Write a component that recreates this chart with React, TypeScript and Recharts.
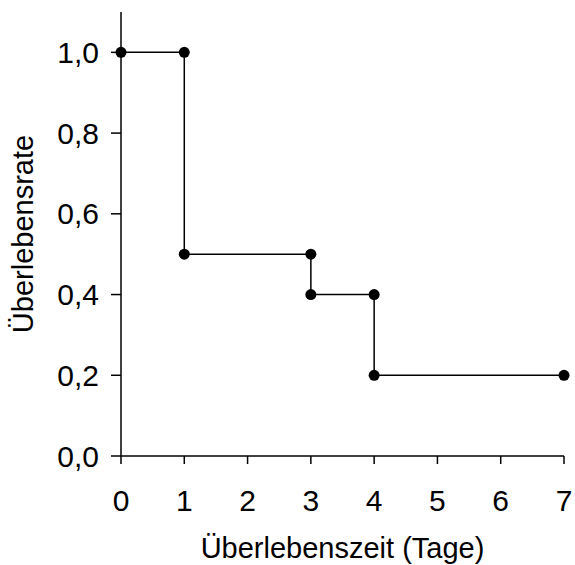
import React from 'react';
import { LineChart, Line, XAxis, YAxis, Label } from 'recharts';

// Kaplan-Meier-Stufen: jede Ecke als eigener Punkt
const days = [0, 1, 1, 3, 3, 4, 4, 7];
const survival = [1.0, 1.0, 0.5, 0.5, 0.4, 0.4, 0.2, 0.2];
const xTicks = [0, 1, 2, 3, 4, 5, 6, 7];
const yTicks = [0, 0.2, 0.4, 0.6, 0.8, 1.0];

const data = days.map((t, i) => ({ t, s: survival[i] }));

const font = '"Liberation Sans", Arial, sans-serif';
const tickStyle = { fontSize: 30, fill: '#000', fontFamily: font, style: { fontSize: 30 } };
const labelStyle = { fontSize: 29, fill: '#000', fontFamily: font };

const App: React.FC = () => {
  return (
    <div style={{ position: 'absolute', left: 0, top: 0, width: 575, height: 565, background: '#fff' }}>
      <LineChart width={575} height={565} data={data} margin={{ top: 12, right: 11, left: 0, bottom: 0 }}>
        <XAxis
          type="number"
          dataKey="t"
          domain={[0, 7]}
          ticks={xTicks}
          height={109}
          tickSize={8}
          tickMargin={26}
          fontSize={30}
          fontFamily={font}
          tick={tickStyle}
          axisLine={{ stroke: '#000', strokeWidth: 1.5 }}
          tickLine={{ stroke: '#000', strokeWidth: 1.5 }}
        >
          <Label value="Überlebenszeit (Tage)" position="insideBottom" offset={7} style={labelStyle} />
        </XAxis>
        <YAxis
          type="number"
          domain={[0, 1.1]}
          ticks={yTicks}
          width={121}
          tickSize={10}
          tickMargin={12}
          fontSize={30}
          fontFamily={font}
          tick={tickStyle}
          tickFormatter={(v: number) => v.toFixed(1).replace('.', ',')}
          axisLine={{ stroke: '#000', strokeWidth: 1.5 }}
          tickLine={{ stroke: '#000', strokeWidth: 1.5 }}
        >
          <Label
            value="Überlebensrate"
            angle={-90}
            position="insideLeft"
            offset={23}
            style={{ ...labelStyle, textAnchor: 'middle' }}
          />
        </YAxis>
        <Line
          type="linear"
          dataKey="s"
          stroke="#000"
          strokeWidth={1.5}
          dot={{ r: 5.5, fill: '#000', stroke: '#000', strokeWidth: 0 }}
          activeDot={false}
          isAnimationActive={false}
        />
      </LineChart>
    </div>
  );
};

export default App;
